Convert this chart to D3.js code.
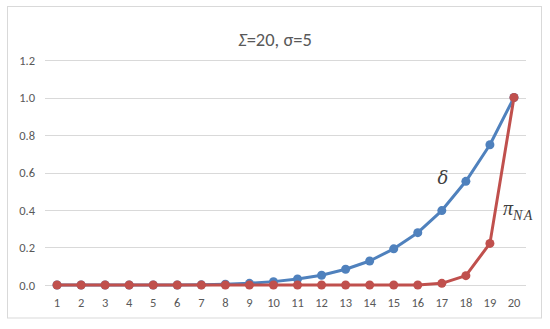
<!DOCTYPE html>
<html>
<head>
<meta charset="utf-8">
<script src="https://cdn.jsdelivr.net/npm/d3@7"></script>
<style>
  body { margin: 0; background: #fff; }
  svg { font-family: Calibri, Carlito, "Open Sans", sans-serif; }
</style>
</head>
<body>
<script>
// values
const categories = d3.range(1, 21);
const deltaValues = [0, 0, 0, 0, 0, 0, 0.001, 0.004, 0.009, 0.018, 0.032, 0.052, 0.084, 0.128, 0.193, 0.279, 0.397, 0.553, 0.748, 1.0];
const piValues = [0, 0, 0, 0, 0, 0, 0, 0, 0, 0, 0, 0, 0, 0, 0, 0, 0.009, 0.05, 0.222, 1.0];
const yTicks = [0, 0.2, 0.4, 0.6, 0.8, 1.0, 1.2];

const width = 550, height = 329;
const svg = d3.select("body").append("svg")
  .attr("width", width)
  .attr("height", height);

svg.append("rect")
  .attr("x", 7.5).attr("y", 6.5)
  .attr("width", 534).attr("height", 311.5)
  .attr("fill", "#fff")
  .attr("stroke", "#d9d9d9");

const x = d3.scaleBand()
  .domain(categories)
  .range([45, 526]);

const y = d3.scaleLinear()
  .domain([0, 1.2])
  .range([285, 60]);

// grid lines
svg.append("g")
  .selectAll("line")
  .data(yTicks)
  .join("line")
  .attr("x1", 45).attr("x2", 526)
  .attr("y1", d => Math.round(y(d)) + 0.5)
  .attr("y2", d => Math.round(y(d)) + 0.5)
  .attr("stroke", "#d9d9d9");

// y axis labels
const yAxis = svg.append("g")
  .attr("transform", "translate(35,0)")
  .call(d3.axisLeft(y).tickValues(yTicks).tickFormat(d3.format(".1f")).tickSize(0));
yAxis.select(".domain").remove();
yAxis.selectAll("text")
  .attr("fill", "#595959")
  .style("font-size", "12.5px")
  .style("font-family", "Carlito, Calibri, sans-serif")
  .attr("x", 0)
  .attr("text-anchor", "end");

// x axis labels
const xAxis = svg.append("g")
  .attr("transform", "translate(0,295)")
  .call(d3.axisBottom(x).tickSize(0));
xAxis.select(".domain").remove();
xAxis.selectAll("text")
  .attr("fill", "#595959")
  .style("font-size", "12.5px")
  .style("font-family", "Carlito, Calibri, sans-serif")
  .attr("dy", "0.71em");

const cx = d => x(d) + x.bandwidth() / 2;

function drawSeries(values, color) {
  const pts = categories.map((c, i) => [c, values[i]]);
  svg.append("path")
    .datum(pts)
    .attr("fill", "none")
    .attr("stroke", color)
    .attr("stroke-width", 3)
    .attr("stroke-linejoin", "round")
    .attr("d", d3.line().x(d => cx(d[0])).y(d => y(d[1])));
  svg.append("g")
    .selectAll("circle")
    .data(pts)
    .join("circle")
    .attr("cx", d => cx(d[0]))
    .attr("cy", d => y(d[1]))
    .attr("r", 4.5)
    .attr("fill", color);
}

drawSeries(deltaValues, "#4f81bd");
drawSeries(piValues, "#c0504d");

// title
const title = svg.append("text")
  .attr("x", 275).attr("y", 46)
  .attr("text-anchor", "middle")
  .attr("fill", "#595959")
  .style("font-size", "18.5px");
title.append("tspan").style("font-style", "italic").text("Σ");
title.append("tspan").text("=20, σ=5");

// series labels
svg.append("text")
  .attr("x", 443).attr("y", 184)
  .attr("text-anchor", "middle")
  .style("font-family", "'DejaVu Serif', 'Liberation Serif', serif")
  .style("font-style", "italic")
  .style("font-size", "18px")
  .attr("fill", "#404040")
  .text("δ");

const pi = svg.append("text")
  .attr("x", 503).attr("y", 215)
  .style("font-family", "'Liberation Serif', 'DejaVu Serif', serif")
  .style("font-style", "italic")
  .style("font-size", "20px")
  .attr("fill", "#404040");
pi.append("tspan").text("π");
pi.append("tspan").attr("dy", 5).style("font-size", "14px").attr("letter-spacing", 1.5).text("NA");
</script>
</body>
</html>
